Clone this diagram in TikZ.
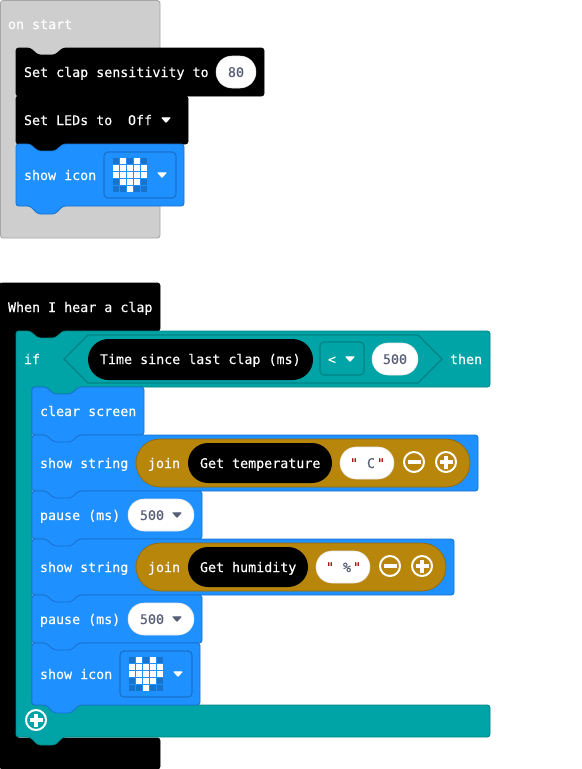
\documentclass[tikz,border=0pt]{standalone}
\usepackage{fontspec}
\setmainfont{DejaVu Sans Mono}[FakeBold=0.3,Ligatures=TeXOff]
\definecolor{cblue}{HTML}{1E90FF}
\definecolor{cblued}{HTML}{1873CC}
\definecolor{cteal}{HTML}{00A4A6}
\definecolor{cteald}{HTML}{008385}
\definecolor{cgold}{HTML}{B8860B}
\definecolor{cgoldd}{HTML}{936B09}
\definecolor{cgray}{HTML}{CECECE}
\definecolor{cgrayd}{HTML}{A5A5A5}
\definecolor{ctext}{HTML}{575E75}
\definecolor{cquote}{HTML}{A31515}
\tikzset{
  x=0.75pt,y=-0.75pt,
  blue block/.style={fill=cblue,draw=cblued,line width=0.6pt,rounded corners=2pt},
  black block/.style={fill=black,draw=black,line width=0.6pt,rounded corners=2pt},
  teal block/.style={fill=cteal,draw=cteald,line width=0.6pt,rounded corners=2pt},
  label/.style={anchor=base west,inner sep=0pt,outer sep=0pt,text=white,font=\fontsize{10}{12}\selectfont},
  value/.style={anchor=base,inner sep=0pt,outer sep=0pt,text=ctext,font=\fontsize{10}{12}\selectfont},
  quote mark/.style={anchor=base,inner sep=0pt,outer sep=0pt,text=cquote,font=\fontsize{10}{12}\selectfont},
  pill/.style={fill=white,draw=black!10,line width=0.4pt},
  gold pill/.style={fill=cgold,draw=cgoldd,line width=0.6pt},
  icon box/.style={fill=cblue,draw=cblued,line width=0.9pt,rounded corners=3pt},
}
% #1 style, #2 x1, #3 y1, #4 x2, #5 y2: statement block with notch and tab
\newcommand{\stmt}[5]{%
  \path[#1] (#2,#3) -- ({#2+14},#3) -- ({#2+22},{#3+7}) -- ({#2+39},{#3+7}) -- ({#2+47},#3)
    -- (#4,#3) -- (#4,#5) -- ({#2+47},#5) -- ({#2+39},{#5+8}) -- ({#2+22},{#5+8}) -- ({#2+14},#5)
    -- (#2,#5) -- cycle;}
\newcommand{\pillat}[5]{% style x1 y1 x2 y2
  \pgfmathsetmacro{\pillr}{0.375*(#5-#3)-0.01}%
  \path[#1,rounded corners=\pillr pt] (#2,#3) rectangle (#4,#5);}
\newcommand{\tri}[3]{% colour x y
  \fill[#1,draw=#1,line width=0.8pt,line join=round] ({#2-4},{#3-2.2}) -- ({#2+4},{#3-2.2}) -- (#2,{#3+2.2}) -- cycle;}
\newcommand{\leds}[2]{% x y of the first cell
  \foreach \r/\pat in {0/{0,1,0,1,0},1/{1,1,1,1,1},2/{1,1,1,1,1},3/{0,1,1,1,0},4/{0,0,1,0,0}}{
    \foreach \v [count=\c from 0] in \pat {
      \ifnum\v=1\relax
        \fill[white] ({#1+7*\c},{#2+7*\r}) rectangle ({#1+7*\c+6},{#2+7*\r+6});
      \else
        \fill[cblued] ({#1+7*\c},{#2+7*\r}) rectangle ({#1+7*\c+6},{#2+7*\r+6});
      \fi
    }
  }}
\newcommand{\minusicon}[2]{%
  \draw[white,line width=1.5pt] (#1,#2) circle[radius=10];
  \fill[white] ({#1-6.5},{#2-2}) rectangle ({#1+6.5},{#2+2});}
\newcommand{\plusicon}[2]{%
  \draw[white,line width=1.5pt] (#1,#2) circle[radius=10];
  \fill[white] ({#1-6.5},{#2-2}) rectangle ({#1+6.5},{#2+2});
  \fill[white] ({#1-2},{#2-6.5}) rectangle ({#1+2},{#2+6.5});}
\begin{document}
\begin{tikzpicture}
\useasboundingbox (0,0) rectangle (582,769);
% ---------- on start
\draw[fill=cgray,draw=cgrayd,line width=0.6pt,rounded corners=2pt] (0.5,0.5) rectangle (160,238);
\node[label] (onstart) at (8,29) {on start};
\stmt{black block}{16}{48}{264}{96}
\node[label] (setclap) at (24,77) {Set clap sensitivity to};
\pillat{pill}{216}{56}{256}{88}
\node[value] (v80) at (236,77) {80};
\stmt{black block}{16}{96}{188}{144}
\node[label] (setleds) at (24,125) {Set LEDs to};
\node[label] (off) at (128,125) {Off};
\tri{white}{166}{120}
\stmt{blue block}{16}{144}{184}{206}
\node[label] (icon1) at (24,180) {show icon};
\path[icon box] (104,152) rectangle (176,198);
\leds{113}{158}
\tri{white}{162}{175}
% ---------- hat
\path[black block] (0,285) -- (0,283) -- (160,283) -- (160,331) -- (63,331) -- (55,338) -- (38,338) -- (30,331) -- (16,331) -- (16,738)
  -- (160,738) -- (160,769) -- (0,769) -- cycle;
\node[label] (hat) at (8,312) {When I hear a clap};
% ---------- if
\path[teal block] (16,331) -- (30,331) -- (38,338) -- (55,338) -- (63,331) -- (490,331)
  -- (490,387) -- (79,387) -- (71,394) -- (54,394) -- (46,387) -- (32,387) -- (32,705)
  -- (490,705) -- (490,737) -- (63,737) -- (55,745) -- (38,745) -- (30,737) -- (16,737) -- cycle;
\node[label] (iflbl) at (24,364) {if};
\draw[fill=cteal,draw=cteald,line width=1pt] (64,359) -- (88,335) -- (418,335) -- (442,359) -- (418,383) -- (88,383) -- cycle;
\pillat{fill=black}{88}{339}{313}{380}
\node[label] (since) at (100,364) {Time since last clap (ms)};
\path[fill=cteal,draw=cteald,line width=0.9pt,rounded corners=3pt] (320,342) rectangle (364,375);
\node[label] (lt) at (328,364) {<};
\tri{white}{350}{359}
\pillat{pill}{372}{343}{418}{375}
\node[value] (v500a) at (395,364) {500};
\node[label] (then) at (450,364) {then};
% ---------- inner statements
\stmt{blue block}{32}{387}{144}{435}
\node[label] (clear) at (40,416) {clear screen};
\stmt{blue block}{32}{435}{478}{491}
\node[label] (ss1) at (40,468) {show string};
\pillat{gold pill}{136}{439}{470}{487}
\node[label] (join1) at (148,468) {join};
\pillat{fill=black}{188}{443}{332}{483}
\node[label] (temp) at (200,468) {Get temperature};
\pillat{pill}{340}{447}{394}{479}
\node[quote mark] (q1a) at (354,468) {"};
\node[value] (cc) at (371,468) {C};
\node[quote mark] (q1b) at (381,468) {"};
\minusicon{414}{462}
\plusicon{446}{462}
\stmt{blue block}{32}{491}{202}{539}
\node[label] (p1) at (40,520) {pause (ms)};
\pillat{pill}{128}{499}{194}{531}
\node[value] (v500b) at (152,520) {500};
\tri{ctext}{177}{515}
\stmt{blue block}{32}{539}{454}{595}
\node[label] (ss2) at (40,572) {show string};
\pillat{gold pill}{136}{543}{446}{591}
\node[label] (join2) at (148,572) {join};
\pillat{fill=black}{188}{547}{308}{587}
\node[label] (hum) at (200,572) {Get humidity};
\pillat{pill}{316}{551}{370}{583}
\node[quote mark] (q2a) at (330,572) {"};
\node[value] (pc) at (347,572) {\%};
\node[quote mark] (q2b) at (357,572) {"};
\minusicon{390}{566}
\plusicon{422}{566}
\stmt{blue block}{32}{595}{202}{643}
\node[label] (p2) at (40,624) {pause (ms)};
\pillat{pill}{128}{603}{194}{635}
\node[value] (v500c) at (152,624) {500};
\tri{ctext}{177}{619}
\stmt{blue block}{32}{643}{200}{705}
\node[label] (icon2) at (40,679) {show icon};
\path[icon box] (120,651) rectangle (192,697);
\leds{129}{657}
\tri{white}{178}{674}
\plusicon{36}{720}
\end{tikzpicture}
\end{document}
